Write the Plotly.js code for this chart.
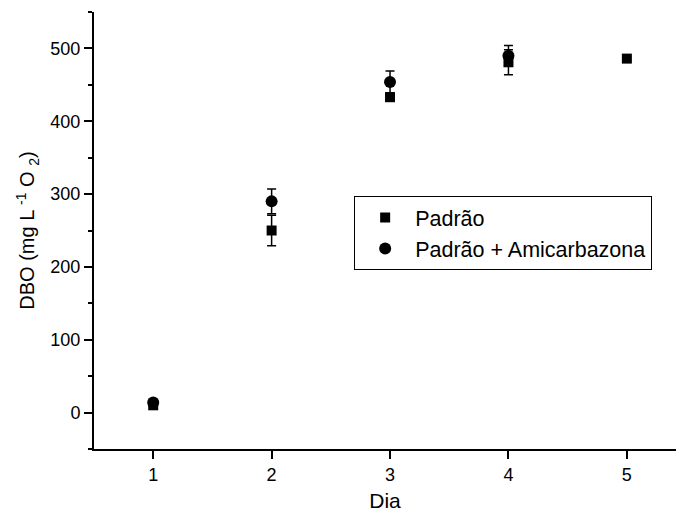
<!DOCTYPE html>
<html>
<head>
<meta charset="utf-8">
<script src="https://cdn.plot.ly/plotly-3.0.1.min.js"></script>
<style>html,body{margin:0;padding:0;background:#fff;}#chart{width:676px;height:515px;}</style>
</head>
<body>
<div id="chart"></div>
<script>
// Data
const dias = [1, 2, 3, 4, 5];
const padrao = [10, 250, 433, 481, 486];
const padraoErr = [2, 21, 3, 17, 2];
const diasAmic = [1, 2, 3, 4];
const amicarbazona = [14, 290, 454, 490];
const amicarbazonaErr = [2, 17, 15, 14];
const nomes = ["Padrão", "Padrão + Amicarbazona"];
const xTickVals = [1, 2, 3, 4, 5];
const yTickVals = [0, 100, 200, 300, 400, 500];

const FONT = "Liberation Sans, Arial, sans-serif";

const traces = [
  {
    x: dias, y: padrao, name: nomes[0], type: "scatter", mode: "markers",
    marker: {symbol: "square", size: 10, color: "#000"},
    error_y: {type: "data", array: padraoErr, visible: true, color: "#000", thickness: 1.5, width: 4.5}
  },
  {
    x: diasAmic, y: amicarbazona, name: nomes[1], type: "scatter", mode: "markers",
    marker: {symbol: "circle", size: 12, color: "#000"},
    error_y: {type: "data", array: amicarbazonaErr, visible: true, color: "#000", thickness: 1.5, width: 4.5}
  }
];

const layout = {
  width: 676, height: 515,
  margin: {l: 94, r: 0, t: 12, b: 66},
  paper_bgcolor: "#fff", plot_bgcolor: "#fff",
  font: {family: FONT, color: "#000", size: 18},
  showlegend: true,
  legend: {
    x: 0.447, y: 0.579, xanchor: "left", yanchor: "top",
    bordercolor: "#000", borderwidth: 1, bgcolor: "#fff",
    font: {family: FONT, size: 21.5, color: "#000"},
    itemwidth: 50, tracegroupgap: 0
  },
  xaxis: {
    range: [0.5, 5.415],
    tickmode: "array", tickvals: xTickVals, ticktext: xTickVals.map(String),
    showgrid: false, zeroline: false,
    showline: true, linecolor: "#000", linewidth: 2,
    ticks: "outside", ticklen: 8, tickwidth: 2, tickcolor: "#000",
    tickfont: {family: FONT, size: 18},
    title: {text: "Dia", font: {family: FONT, size: 21}, standoff: 10}
  },
  yaxis: {
    range: [-50, 550],
    tickmode: "array", tickvals: yTickVals, ticktext: yTickVals.map(String),
    showgrid: false, zeroline: false,
    showline: true, linecolor: "#000", linewidth: 2,
    ticks: "outside", ticklen: 8, tickwidth: 2, tickcolor: "#000",
    tickfont: {family: FONT, size: 18},
    minor: {dtick: 50, tick0: 0, ticks: "outside", ticklen: 4, tickwidth: 2, tickcolor: "#000", showgrid: false},
    title: {text: "DBO (mg L <sup>-1</sup> O <sub>2</sub>)", font: {family: FONT, size: 20}, standoff: 10}
  }
};

Plotly.newPlot("chart", traces, layout, {displayModeBar: false, staticPlot: true});
</script>
</body>
</html>
